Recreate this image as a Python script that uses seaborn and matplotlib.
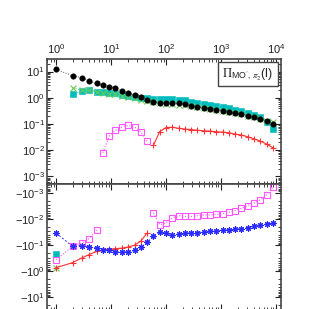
import numpy as np
import pandas as pd
import matplotlib
matplotlib.use("Agg")
import matplotlib.pyplot as plt
import matplotlib.ticker as mticker
import seaborn as sns

# multipole bins
ell = [1, 2, 3, 4, 5.5, 7.1, 9.3, 12, 16, 20.5, 27, 35, 45, 59, 77, 100, 130, 169,
       220, 286, 372, 484, 630, 820, 1070, 1390, 1810, 2350, 3060, 3980, 5180, 6750, 8770]

# signed values of each term (positive -> top panel, negative -> bottom panel)
black_vals = [12.1, 6.9, 5.8, 4.3, 3.5, 3.05, 2.63, 2.41, 1.85, 1.47, 1.30, 1.04, 0.82, 0.70,
              0.64, 0.64, 0.61, 0.61, 0.56, 0.50, 0.45, 0.415, 0.38, 0.34, 0.32, 0.28, 0.254,
              0.239, 0.206, 0.179, 0.15, 0.129, 0.10]
cyan_vals = [-0.21, 1.38, 1.80, 2.06, 1.69, 1.61, 1.51, 1.47, 1.30, 1.16, 1.09, 1.0, 0.95, 0.92,
             0.89, 0.89, 0.87, 0.82, 0.80, 0.69, 0.63, 0.575, 0.54, 0.50, 0.44, 0.39, 0.35,
             0.31, 0.27, 0.22, 0.18, 0.12, 0.062]
green_vals = [-0.73, 2.4, 1.9, 1.95, 1.7, 1.55, 1.45, 1.35, 1.2, 1.05, 0.95, 0.85, 0.76, 0.68,
              0.62, 0.6, 0.58, 0.55, 0.52, 0.48, 0.44, 0.41, 0.38, 0.35, 0.32, 0.29, 0.26,
              0.24, 0.21, 0.18, 0.155, 0.135, 0.115]
magenta_vals = [-0.36, -0.112, -0.081, -0.057, -0.027, 0.008, 0.0345, 0.057, 0.078, 0.0885,
                0.076, 0.050, 0.022, -0.0059, -0.0168, -0.0141, -0.0092, -0.0075, -0.0081,
                -0.0081, -0.0076, -0.0071, -0.0071, -0.0068, -0.0063, -0.0056, -0.0048,
                -0.0039, -0.0031, -0.00246, -0.00189, -0.00125, -0.0006]
blue_vals = [-0.0347, -0.112, -0.105, -0.117, -0.131, -0.153, -0.16, -0.179, -0.185, -0.179,
             -0.16, -0.122, -0.079, -0.046, -0.031, -0.0357, -0.04, -0.039, -0.0357, -0.034,
             -0.0332, -0.0318, -0.0291, -0.0291, -0.0274, -0.0257, -0.025, -0.0235, -0.0216,
             -0.0192, -0.0176, -0.0157, -0.0144]
red_vals = [-0.73, -0.468, -0.304, -0.231, -0.174, -0.153, -0.142, -0.137, -0.130, -0.119,
            -0.1, -0.070, -0.0347, 0.0154, 0.0513, 0.073, 0.0749, 0.0685, 0.0638, 0.0611,
            0.0575, 0.055, 0.0536, 0.0504, 0.0491, 0.0461, 0.0412, 0.0377, 0.0325, 0.0272,
            0.0222, 0.0171, 0.0124]

legend_label = r"$\Pi_{\mathregular{MO}',\,\pi_2}\mathregular{(l)}$"

# drawing order and style for each series (full kwarg names, seaborn sets its own defaults otherwise)
series = [
    ("cyan", cyan_vals, dict(color="#00bcbc", marker="s", markersize=4.0, linestyle=":", linewidth=0.7,
                             markeredgecolor="#00bcbc", markerfacecolor="#00bcbc", markeredgewidth=0.4)),
    ("green", green_vals, dict(color="#66cc55", marker="x", markersize=3.8, linestyle=":", linewidth=0.8,
                               markeredgecolor="#66cc55", markeredgewidth=0.8)),
    ("black", black_vals, dict(color="#555555", marker="o", markersize=4.0, linestyle=":", linewidth=0.7,
                               markeredgecolor="black", markerfacecolor="black", markeredgewidth=0.3)),
    ("magenta", magenta_vals, dict(color="#ff55ff", marker="s", markersize=4.6, linestyle=":", linewidth=0.8,
                                   markerfacecolor="none", markeredgecolor="#ff55ff", markeredgewidth=0.8)),
    ("red", red_vals, dict(color="#ff3333", marker="+", markersize=4.6, linestyle="-", linewidth=0.8,
                           markeredgecolor="#ff3333", markeredgewidth=0.8)),
    ("blue", blue_vals, dict(color="#2a2aff", marker=(8, 2, 0), markersize=4.4, linestyle=(0, (2, 2)),
                             linewidth=0.7, markeredgecolor="#2a2aff", markeredgewidth=0.8)),
]

sns.set_style("ticks")
plt.rcParams["font.family"] = ["Liberation Sans", "DejaVu Sans"]
plt.rcParams["mathtext.fontset"] = "stix"

fig = plt.figure(figsize=(3.31, 3.09), dpi=100)
ax_top = fig.add_axes([0.1435, 0.4045, 0.7055, 0.4045])
ax_bot = fig.add_axes([0.1435, -0.003, 0.7055, 0.4075])


def runs(mask):
    # split indices into contiguous runs where mask is True
    out, cur = [], []
    for i, m in enumerate(mask):
        if m:
            cur.append(i)
        elif cur:
            out.append(cur)
            cur = []
    if cur:
        out.append(cur)
    return out


for name, vals, kw in series:
    v = np.array(vals)
    for ax, sign in ((ax_top, 1), (ax_bot, -1)):
        for idx in runs(sign * v > 0):
            d = pd.DataFrame({"l": [ell[i] for i in idx], "v": [sign * v[i] for i in idx]})
            sns.lineplot(data=d, x="l", y="v", ax=ax, sort=False, estimator=None, **kw)

for ax in (ax_top, ax_bot):
    ax.set_xscale("log")
    ax.set_yscale("log")
    ax.set_xlim(0.70, 12330)
    ax.set_xlabel("")
    ax.set_ylabel("")
    ax.tick_params(which="both", direction="in", top=True, bottom=True, left=True, right=True,
                   labelsize=8, colors="#222222", pad=2)
    ax.tick_params(which="major", length=4, width=0.8)
    ax.tick_params(which="minor", length=2, width=0.6)
    ax.xaxis.set_major_locator(mticker.LogLocator(base=10, numticks=10))
    ax.xaxis.set_minor_locator(mticker.LogLocator(base=10, subs=np.arange(2, 10), numticks=20))
    ax.yaxis.set_major_locator(mticker.LogLocator(base=10, numticks=10))
    ax.yaxis.set_minor_locator(mticker.LogLocator(base=10, subs=np.arange(2, 10), numticks=20))
    ax.yaxis.set_minor_formatter(mticker.NullFormatter())
    ax.xaxis.set_minor_formatter(mticker.NullFormatter())
    for sp in ax.spines.values():
        sp.set_color("#444444")
        sp.set_linewidth(1.2)

ax_top.set_ylim(10 ** -3.29, 10 ** 1.477)
ax_top.tick_params(labeltop=True, labelbottom=False)
ax_bot.set_ylim(10 ** 1.475, 10 ** -3.33)
ax_bot.tick_params(labeltop=False, labelbottom=False)
ax_bot.yaxis.set_major_formatter(
    mticker.FuncFormatter(lambda y, p: r"$\mathregular{-10^{%d}}$" % round(np.log10(y))))

ax_top.text(0.857, 0.88, legend_label, transform=ax_top.transAxes, ha="center", va="center",
            fontsize=9, bbox=dict(boxstyle="square,pad=0.35", fc="white", ec="#444444", lw=1))

fig.savefig("out.png", dpi=100)
